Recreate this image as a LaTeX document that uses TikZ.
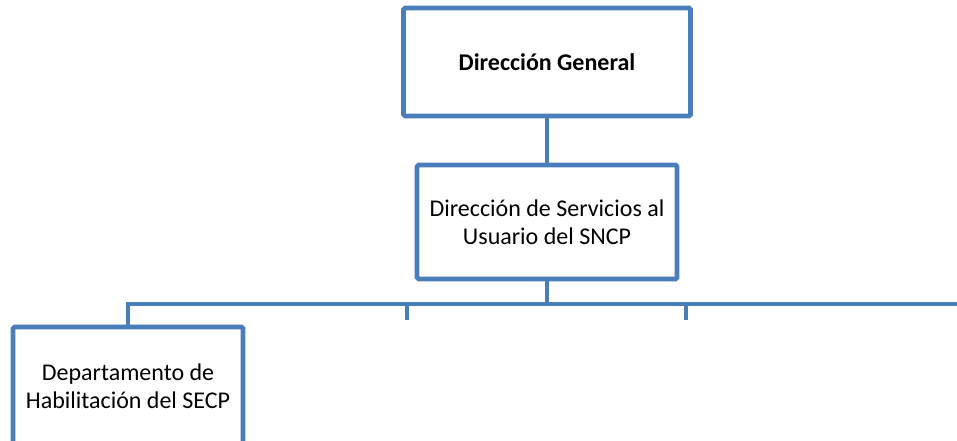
\documentclass[tikz,border=0pt]{standalone}
\usepackage{fontspec}
\setmainfont{Carlito}
\usetikzlibrary{positioning}
\definecolor{orgblue}{HTML}{4A7EBB}

\begin{document}
\begin{tikzpicture}[
    x=1pt, y=-1pt,
    unit/.style={draw=orgblue, line width=4.6pt, rounded corners=1.5pt, fill=white, align=center,
      font=\fontsize{24}{28}\selectfont, inner sep=0pt},
    link/.style={draw=orgblue, line width=4.6pt}
]
\useasboundingbox (0,0) rectangle (957,441);
\clip (0,0) rectangle (957,441);

% Units
\node[unit, minimum width=287pt, minimum height=108pt, font=\fontsize{24}{28}\selectfont\bfseries] (dg) at (547,62) {Dirección General};
\node[unit, minimum width=260pt, minimum height=114pt] (dsu) at (547,222) {Dirección de Servicios al\\Usuario del SNCP};
\node[unit, minimum width=230pt, minimum height=118pt] (dhab) at (128,386) {Departamento de\\Habilitación del SECP};

% Bar and open ends
\coordinate (barR) at (962,304);
\coordinate (tickA) at (407,320);
\coordinate (tickB) at (686,320);

% Connectors
\draw[link] (dg.south) -- (dsu.north);
\draw[link] (dsu.south) -- (dsu.south |- barR);
\draw[link] (dhab.north) |- (barR);
\draw[link] (tickA |- barR) -- (tickA);
\draw[link] (tickB |- barR) -- (tickB);

\end{tikzpicture}
\end{document}
